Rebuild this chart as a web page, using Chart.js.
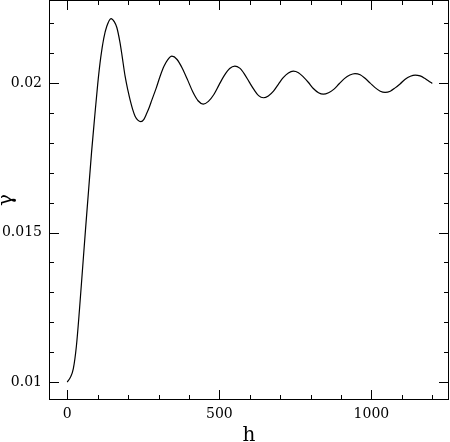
<!DOCTYPE html>
<html>
<head>
<meta charset="utf-8">
<script src="https://cdn.jsdelivr.net/npm/chart.js@4"></script>
<style>
html,body{margin:0;padding:0;background:#fff;}
#wrap{width:450px;height:442px;position:relative;}
</style>
</head>
<body>
<div id="wrap"><canvas id="c" width="450" height="442"></canvas></div>
<script>
const hValues = [0,10,20,30,40,50,60,70,80,90,100,110,120,130,144,155,163,173,180,190,200,207,215,223,232,242,252,261,270,278,293,305,318,330,344,
361,378,396,413,430,447,464,482,499,516,534,551,567,582,598,614,629,645,661,678,694,710,727,743,
760,776,793,809,826,842,859,877,894,911,929,946,963,979,996,1012,1029,1045,1062,1078,1095,1111,1128,1144,1160,1175,1188,1200];
const gammaValues = [0.01000,0.01015,0.01045,0.01120,0.01240,0.01375,0.01510,0.01640,0.01770,0.01885,0.01995,0.02085,0.02150,0.02190,0.02216,0.02205,0.02186,0.02138,0.02093,0.02024,0.01973,0.01942,0.01912,0.01889,0.01876,0.01871,0.01879,0.01898,0.01920,0.01943,0.01985,0.02022,0.02056,0.02078,0.02090,
0.02079,0.02050,0.02010,0.01970,0.01941,0.01930,0.01939,0.01962,0.01994,0.02025,0.02049,0.02057,0.02050,0.02031,0.02004,0.01978,0.01958,0.01951,0.01957,0.01973,0.01996,0.02018,0.02034,0.02040,
0.02035,0.02021,0.02002,0.01982,0.01968,0.01963,0.01968,0.01980,0.01998,0.02015,0.02027,0.02032,0.02028,0.02016,0.02000,0.01985,0.01973,0.01969,0.01973,0.01984,0.01998,0.02013,0.02023,0.02027,0.02024,0.02016,0.02007,0.01999];
const xTicks = [0,100,200,300,400,500,600,700,800,900,1000,1100,1200];
const xLabeled = [0,500,1000];
const yTicks = [0.010,0.011,0.012,0.013,0.014,0.015,0.016,0.017,0.018,0.019,0.020,0.021,0.022];
const yLabeled = ['0.01','0.015','0.02'];

const FONT = 'DejaVu Serif';

const frameTicks = {
  id:'frameTicks',
  afterDraw(chart){
    const {ctx, chartArea:a, scales} = chart;
    ctx.save();
    ctx.strokeStyle = '#000';
    ctx.lineWidth = 1;
    ctx.strokeRect(Math.round(a.left)+0.5, Math.round(a.top)+0.5, Math.round(a.right-a.left)-1, Math.round(a.bottom-a.top)-1);
    ctx.beginPath();
    xTicks.forEach(v=>{
      const px = Math.round(scales.x.getPixelForValue(v))+0.5;
      const len = xLabeled.includes(v)?10:5;
      ctx.moveTo(px, a.bottom); ctx.lineTo(px, a.bottom-len);
      ctx.moveTo(px, a.top); ctx.lineTo(px, a.top+len);
    });
    yTicks.forEach(v=>{
      const py = Math.round(scales.y.getPixelForValue(v))+0.5;
      const major = yLabeled.includes(String(+v.toFixed(3)));
      const len = major?10:5;
      ctx.moveTo(a.left, py); ctx.lineTo(a.left+len, py);
      ctx.moveTo(a.right, py); ctx.lineTo(a.right-len, py);
    });
    ctx.stroke();
    ctx.restore();
  }
};

new Chart(document.getElementById('c'), {
  type:'scatter',
  data:{datasets:[{
    data: hValues.map((h,i)=>({x:h,y:gammaValues[i]})),
    showLine:true,
    borderColor:'#000',
    borderWidth:1.2,
    pointRadius:0,
    cubicInterpolationMode:'monotone',
    fill:false
  }]},
  options:{
    responsive:false,
    animation:false,
    devicePixelRatio:1,
    layout:{padding:{top:0,right:1,left:0,bottom:0}},
    plugins:{legend:{display:false},tooltip:{enabled:false}},
    scales:{
      x:{
        type:'linear', min:-60, max:1255,
        afterBuildTicks(s){ s.ticks = xTicks.map(v=>({value:v})); },
        afterFit(s){ s.height = 42; s.paddingLeft = 0; s.paddingRight = 0; },
        grid:{display:false, drawTicks:false},
        border:{display:false},
        ticks:{autoSkip:false, maxRotation:0, padding:6, color:'#000', font:{family:FONT,size:14},
          callback:(v)=> xLabeled.includes(v)? String(v) : ''},
        title:{display:true, text:'h', color:'#000', font:{family:FONT,size:20,lineHeight:1}, padding:{top:0,bottom:-4}}
      },
      y:{
        type:'linear', min:0.0094, max:0.02278,
        afterBuildTicks(s){ s.ticks = yTicks.map(v=>({value:v})); },
        afterFit(s){ s.width = 49; s.paddingTop = 0; s.paddingBottom = 0; },
        grid:{display:false, drawTicks:false},
        border:{display:false},
        ticks:{autoSkip:false, padding:7, color:'#000', font:{family:FONT,size:14},
          callback:(v)=>{ const s=String(+(+v).toFixed(3)); return yLabeled.includes(s)? s : ''; }},
        title:{display:true, text:'γ', color:'#000', font:{family:FONT,size:20,lineHeight:1}, padding:{top:-3,bottom:0}}
      }
    }
  },
  plugins:[frameTicks]
});
</script>
</body>
</html>
